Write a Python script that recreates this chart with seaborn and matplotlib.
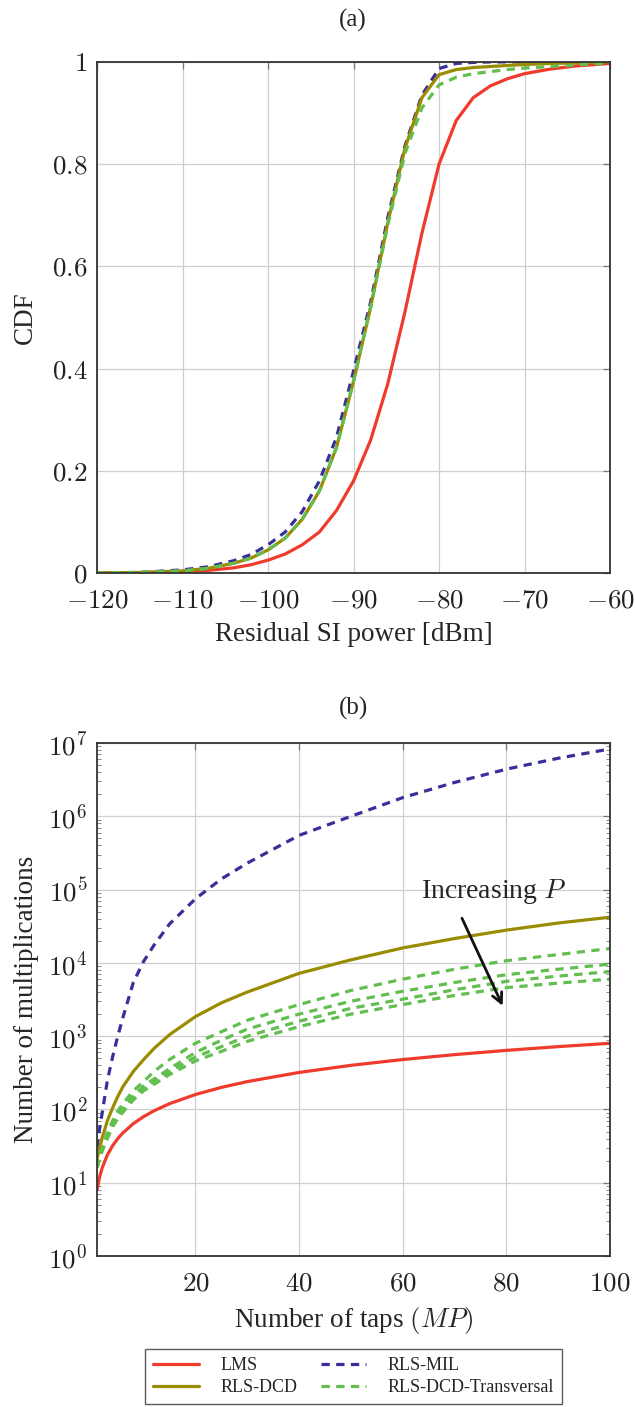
import numpy as np
import pandas as pd
import matplotlib
matplotlib.use("Agg")
import matplotlib.pyplot as plt
import seaborn as sns
from matplotlib.ticker import FixedLocator, FuncFormatter, LogLocator, NullFormatter

# (a) CDF of residual SI power
power_dbm = [-120, -115, -110, -107, -104, -102, -100, -98, -96, -94, -92, -90, -88,
             -86, -84, -82, -80, -78, -76, -74, -72, -70, -67, -64, -60]
cdf_lms = [0.0, 0.0005, 0.002, 0.005, 0.01, 0.016, 0.025, 0.037, 0.055, 0.08, 0.122,
           0.18, 0.26, 0.37, 0.51, 0.665, 0.8, 0.885, 0.93, 0.953, 0.967, 0.977,
           0.986, 0.992, 0.997]
cdf_dcd = [0.0, 0.001, 0.004, 0.009, 0.019, 0.029, 0.045, 0.068, 0.105, 0.16, 0.245,
           0.375, 0.52, 0.685, 0.83, 0.93, 0.975, 0.985, 0.989, 0.991, 0.993, 0.995,
           0.997, 0.998, 1.0]
cdf_mil = [0.0, 0.001, 0.006, 0.012, 0.024, 0.036, 0.055, 0.08, 0.12, 0.18, 0.265,
           0.395, 0.53, 0.695, 0.835, 0.935, 0.987, 0.997, 0.999, 1.0, 1.0, 1.0,
           1.0, 1.0, 1.0]
cdf_trans = [0.0, 0.001, 0.004, 0.009, 0.019, 0.029, 0.045, 0.068, 0.105, 0.16, 0.245,
             0.375, 0.52, 0.68, 0.82, 0.91, 0.955, 0.97, 0.977, 0.981, 0.985, 0.988,
             0.991, 0.994, 0.998]

# (b) complexity vs number of taps
taps = [1, 1.5, 2, 3, 4, 5, 6, 8, 10, 12, 15, 20, 25, 30, 40, 50, 60, 70, 80, 90, 100]
mult_lms = [8, 12, 16, 24, 32, 40, 48, 64, 80, 96, 120, 160, 200, 240, 320, 400, 480,
            560, 640, 720, 800]
mult_dcd = [21, 30, 41, 70, 105, 150, 205, 330, 480, 680, 1050, 1850, 2850, 4000, 7200,
            11000, 16000, 21500, 28000, 35000, 42000]
mult_mil = [30, 55, 90, 250, 520, 1000, 1800, 5400, 10500, 17500, 34000, 75000, 140000,
            230000, 550000, 1.0e6, 1.8e6, 2.9e6, 4.4e6, 6.2e6, 8.3e6]
mult_trans = [
    [16, 23, 30, 48, 70, 95, 120, 180, 240, 330, 480, 800, 1150, 1650, 2700, 4200,
     6000, 8200, 10700, 13000, 15700],
    [16, 22, 29, 44, 65, 85, 105, 155, 210, 260, 360, 600, 880, 1250, 2000, 3000,
     4100, 5400, 6900, 8200, 9600],
    [16, 22, 28, 42, 62, 80, 98, 145, 195, 240, 330, 520, 720, 1000, 1600, 2400,
     3200, 4300, 5600, 6600, 7600],
    [16, 21, 27, 40, 58, 75, 92, 135, 180, 220, 300, 460, 620, 850, 1350, 2000,
     2700, 3600, 4600, 5300, 6000],
]

labels = ["LMS", "RLS-DCD", "RLS-MIL", "RLS-DCD-Transversal"]
c_red = "#F03A2C"
c_olive = "#9A8C00"
c_blue = "#38309A"
c_green = "#62BE4E"
dash = (0, (2.6, 2.0))

sns.set_theme(style="whitegrid")
plt.rcParams["font.family"] = ["Liberation Serif", "DejaVu Serif"]
plt.rcParams["mathtext.fontset"] = "cm"
plt.rcParams["axes.edgecolor"] = "#333333"
plt.rcParams["grid.color"] = "#cfcfcf"
plt.rcParams["grid.linewidth"] = 0.9

fig = plt.figure(figsize=(6.35, 14.07), dpi=100)
ax1 = fig.add_axes([0.1528, 0.5928, 0.8079, 0.3632])
ax2 = fig.add_axes([0.1528, 0.1073, 0.8079, 0.3646])

lw = 2.3

def num_fmt(v, pos):
    return f"${v:g}$"

# ---- (a)
df_a = pd.DataFrame({"x": power_dbm, "lms": cdf_lms, "dcd": cdf_dcd,
                     "mil": cdf_mil, "tr": cdf_trans})
sns.lineplot(data=df_a, x="x", y="lms", ax=ax1, color=c_red, lw=lw)
sns.lineplot(data=df_a, x="x", y="mil", ax=ax1, color=c_blue, lw=lw, linestyle=dash)
sns.lineplot(data=df_a, x="x", y="dcd", ax=ax1, color=c_olive, lw=lw)
sns.lineplot(data=df_a, x="x", y="tr", ax=ax1, color=c_green, lw=lw, linestyle=dash)
ax1.set_xlim(-120, -60)
ax1.set_ylim(0, 1)
ax1.xaxis.set_major_locator(FixedLocator([-120, -110, -100, -90, -80, -70, -60]))
ax1.yaxis.set_major_locator(FixedLocator([0, 0.2, 0.4, 0.6, 0.8, 1]))
ax1.xaxis.set_major_formatter(FuncFormatter(num_fmt))
ax1.yaxis.set_major_formatter(FuncFormatter(num_fmt))
ax1.set_xlabel("Residual SI power [dBm]", fontsize=19.5, labelpad=6)
ax1.set_ylabel("CDF", fontsize=19.5, labelpad=10)

# ---- (b)
sns.lineplot(x=taps, y=mult_lms, ax=ax2, color=c_red, lw=lw)
sns.lineplot(x=taps, y=mult_mil, ax=ax2, color=c_blue, lw=lw, linestyle=dash)
sns.lineplot(x=taps, y=mult_dcd, ax=ax2, color=c_olive, lw=lw)
for tr in mult_trans:
    sns.lineplot(x=taps, y=tr, ax=ax2, color=c_green, lw=lw, linestyle=dash)
ax2.set_yscale("log")
ax2.set_xlim(1, 100)
ax2.set_ylim(1, 1e7)
ax2.xaxis.set_major_locator(FixedLocator([20, 40, 60, 80, 100]))
ax2.xaxis.set_major_formatter(FuncFormatter(num_fmt))
ax2.yaxis.set_major_locator(FixedLocator([10.0 ** k for k in range(8)]))
ax2.yaxis.set_major_formatter(FuncFormatter(lambda v, p: f"$10^{{{int(round(np.log10(v)))}}}$"))
ax2.yaxis.set_minor_locator(LogLocator(base=10, subs=np.arange(2, 10), numticks=20))
ax2.yaxis.set_minor_formatter(NullFormatter())
ax2.set_xlabel("Number of taps $(MP)$", fontsize=19.5, labelpad=6)
ax2.set_ylabel("Number of multiplications", fontsize=19.5, labelpad=6)

ax2.annotate("", xy=(79.5, 2400), xytext=(71.2, 44000),
             arrowprops=dict(arrowstyle="->", color="#111111", lw=2.0,
                             mutation_scale=18))
ax2.text(77.5, 9.5e4, "Increasing $P$", fontsize=20, ha="center", va="center")

for ax in (ax1, ax2):
    ax.grid(True, which="major")
    ax.grid(False, which="minor")
    for s in ax.spines.values():
        s.set_linewidth(1.3)
        s.set_color("#333333")
    ax.tick_params(axis="both", which="major", direction="in", length=5, width=0.9,
                   color="#777777", labelsize=19.5, top=True, right=True, pad=7,
                   labelcolor="#222222")
    ax.tick_params(axis="x", which="major", pad=11)
    ax.tick_params(axis="y", which="minor", direction="in", length=3, width=0.7,
                   color="#888888", left=True, right=True)

fig.text(0.556, 0.9858, "(a)", ha="center", va="center", fontsize=18)
fig.text(0.556, 0.4968, "(b)", ha="center", va="center", fontsize=18)

# legend built from the lines of panel (b)
h = ax2.get_lines()
handles = [h[0], h[2], h[1], h[3]]
leg = fig.legend(handles, labels, loc="center", bbox_to_anchor=(0.557, 0.0215),
                 ncol=2, fontsize=13, frameon=True, fancybox=False,
                 edgecolor="#333333", handlelength=2.5, columnspacing=1.3,
                 borderpad=0.45, labelspacing=0.25, handletextpad=1.2)
leg.get_frame().set_linewidth(1.0)

fig.savefig("out.png", dpi=100)
